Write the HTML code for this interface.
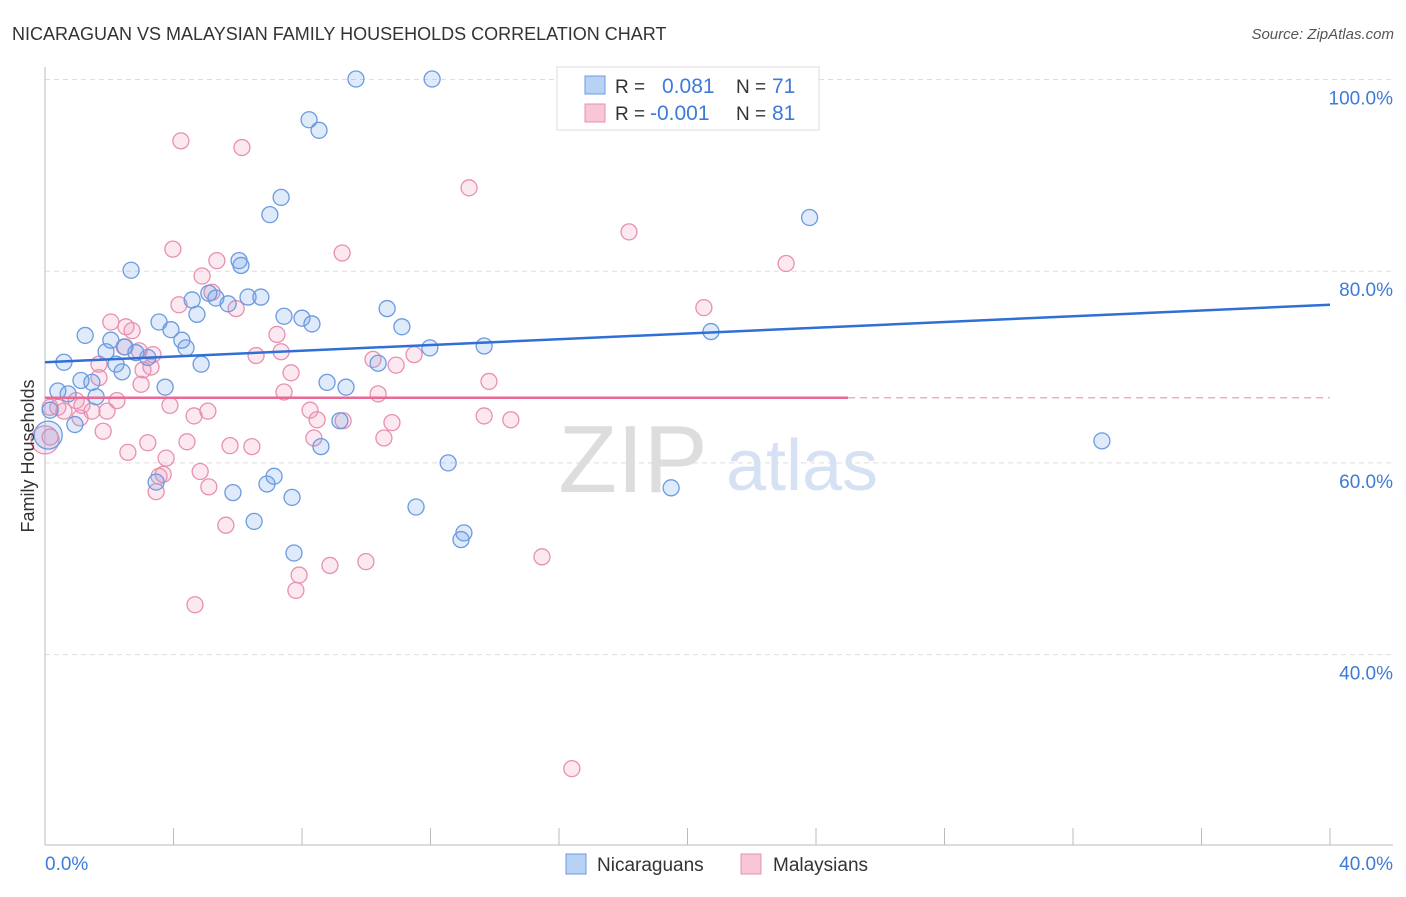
<!DOCTYPE html>
<html><head><meta charset="utf-8"><style>
body{margin:0;background:#fff;font-family:"Liberation Sans",sans-serif;}
svg text{font-family:"Liberation Sans",sans-serif;}
</style></head><body>
<svg id="chart" width="1406" height="892" viewBox="0 0 1406 892">
<text x="12" y="40" font-size="18" fill="#333">NICARAGUAN VS MALAYSIAN FAMILY HOUSEHOLDS CORRELATION CHART</text>
<text x="1394" y="39" font-size="15" fill="#555" font-style="italic" text-anchor="end">Source: ZipAtlas.com</text>
<g id="grid"></g>
<g>
<text x="633" y="492" font-size="96" fill="#ddd" text-anchor="middle" font-family="Liberation Serif">ZIP</text>
<text x="802" y="490" font-size="72" fill="#d6e2f3" text-anchor="middle">atlas</text>
</g>
<g id="pts"></g>
<g id="trends"></g>
<text transform="translate(34,456) rotate(-90)" font-size="18" fill="#333" text-anchor="middle">Family Households</text>
<g>
<rect x="557" y="67" width="262" height="63" fill="#fff" stroke="#ddd"/>
<rect x="585" y="76" width="20" height="18" fill="#b8d2f5" stroke="#6b9be0"/>
<rect x="585" y="104" width="20" height="18" fill="#f9c6d7" stroke="#e890b0"/>
<text x="615" y="93" font-size="19" fill="#333">R = </text><text x="662" y="93" font-size="21" fill="#3d7bd9">0.081</text>
<text x="736" y="93" font-size="19" fill="#333">N = </text><text x="772" y="93" font-size="21" fill="#3d7bd9">71</text>
<text x="615" y="120" font-size="19" fill="#333">R = </text><text x="650" y="120" font-size="21" fill="#3d7bd9">-0.001</text>
<text x="736" y="120" font-size="19" fill="#333">N = </text><text x="772" y="120" font-size="21" fill="#3d7bd9">81</text>
</g>
<g>
<rect x="566" y="854" width="20" height="20" fill="#b8d2f5" stroke="#6b9be0"/>
<text x="597" y="871" font-size="19" fill="#333">Nicaraguans</text>
<rect x="741" y="854" width="20" height="20" fill="#f9c6d7" stroke="#e890b0"/>
<text x="773" y="871" font-size="19" fill="#333">Malaysians</text>
</g>
</svg>
<script>
const yTicks=[100,80,60,40];
const xTickLabels=["0.0%","40.0%"];
const blueX=[9.68,12.05,8.22,8.53,7.35,7.0,23.8,2.68,6.04,6.1,4.58,5.1,5.32,5.7,6.32,6.72,4.73,3.55,3.92,7.44,8.0,8.31,10.65,11.11,1.25,2.05,2.49,1.9,2.83,3.2,4.26,4.39,0.59,2.21,2.4,4.86,11.98,13.67,10.37,20.73,1.12,1.46,3.74,8.78,9.37,0.4,0.72,1.59,0.16,0.93,9.18,8.59,12.55,32.9,0.1,7.13,6.91,3.46,5.85,7.69,19.49,11.55,6.51,13.04,12.95,7.75,21.8];
const blueY=[100.05,100.05,95.8,94.7,87.7,85.9,85.6,80.1,81.1,80.6,77.0,77.7,77.2,76.6,77.3,77.3,75.5,74.7,73.9,75.3,75.1,74.5,76.1,74.2,73.3,72.8,72.1,71.6,71.5,71.0,72.8,72.0,70.5,70.3,69.5,70.3,72.0,72.2,70.4,73.7,68.6,68.4,67.9,68.4,67.9,67.5,67.2,66.9,65.5,64.0,64.4,61.7,60.0,62.3,62.9,58.6,57.8,58.0,56.9,56.4,57.4,55.4,53.9,52.7,52.0,50.6,100.0];
const pinkX=[4.23,6.13,13.2,18.18,3.98,9.25,23.07,5.35,4.89,5.2,4.17,5.95,20.51,2.05,2.52,2.71,7.22,6.57,7.35,2.93,3.36,2.46,10.21,10.93,11.49,3.3,3.05,1.68,7.66,13.82,2.99,1.68,7.44,10.37,2.24,0.97,1.15,0.4,0.59,1.46,1.93,3.89,5.07,8.25,4.64,1.09,8.47,10.8,13.67,14.5,9.28,1.81,8.37,10.55,4.42,3.2,5.76,6.44,0.0,2.58,3.77,4.83,3.55,3.68,5.1,3.46,5.63,15.47,9.99,8.87,7.91,7.81,4.67,16.4,0.16,0.16];
const pinkY=[93.6,92.9,88.7,84.1,82.3,81.9,80.8,81.1,79.5,77.8,76.5,76.1,76.2,74.7,74.2,73.8,73.4,71.2,71.6,71.7,71.3,72.1,70.8,70.2,71.3,70.0,69.7,70.3,69.4,68.5,68.2,68.9,67.4,67.2,66.5,66.5,66.0,65.8,65.4,65.4,65.4,66.0,65.4,65.5,64.9,64.7,64.5,64.2,64.9,64.5,64.4,63.3,62.6,62.6,62.2,62.1,61.8,61.7,62.4,61.1,60.5,59.1,58.6,58.8,57.5,57.0,53.5,50.2,49.7,49.3,48.3,46.7,45.2,28.1,62.7,65.8];
const blueTrend=[70.5,76.5];
const pinkTrend=[66.8,66.8];
const NS="http://www.w3.org/2000/svg";
const X=v=>45+v/40*1285;
const Y=v=>1038-v*9.585;
function mk(tag,attrs,parent){const e=document.createElementNS(NS,tag);for(const k in attrs)e.setAttribute(k,attrs[k]);parent.appendChild(e);return e;}
const grid=document.getElementById('grid');
yTicks.forEach(t=>{
 const l=mk('line',{x1:45,x2:1393,y1:Y(t),y2:Y(t),stroke:'#ddd','stroke-dasharray':'5,4'},grid);
 
 
 const tx=mk('text',{x:1393,y:Y(t)+25,'font-size':19,fill:'#3d7bd9','text-anchor':'end'},grid);
 tx.textContent=t.toFixed(1)+'%';
 
 
});
const ax=mk('line',{x1:45,x2:45,y1:67,y2:845,stroke:'#bbb'},grid);


const bx=mk('line',{x1:45,x2:1393,y1:845,y2:845,stroke:'#bbb'},grid);


for(let i=0;i<=10;i++){
 const t=mk('line',{x1:X(i*4),x2:X(i*4),y1:828,y2:845,stroke:'#bbb'},grid);
 
 
}
[[0,45,'start'],[40,1393,'end']].forEach((d,i)=>{
 const t=mk('text',{x:d[1],y:870,'font-size':19,fill:'#3d7bd9','text-anchor':d[2]},grid);
 t.textContent=xTickLabels[i];
 
 
});
const pts=document.getElementById('pts');
function series(xs,ys,fill,stroke,name){
 xs.forEach((v,i)=>{
  const r=(v<0.12)?14:8;
  const c=mk('circle',{cx:X(v),cy:Y(ys[i]),r:r,fill:fill,stroke:stroke,'stroke-width':1.3},pts);
  
  
 });
}
series(pinkX,pinkY,'rgba(240,150,185,0.22)','#e890b0','point-malaysian');
series(blueX,blueY,'rgba(110,160,230,0.22)','#6b9be0','point-nicaraguan');
const tr=document.getElementById('trends');
const b=mk('line',{x1:X(0),y1:Y(blueTrend[0]),x2:X(40),y2:Y(blueTrend[1]),stroke:'#2f6fd6','stroke-width':2.5},tr);


const p=mk('line',{x1:X(0),y1:Y(pinkTrend[0]),x2:X(25),y2:Y(pinkTrend[0]+(pinkTrend[1]-pinkTrend[0])*25/40),stroke:'#ea6a95','stroke-width':2.5},tr);


const pd=mk('line',{x1:X(25),y1:Y(pinkTrend[0]),x2:X(40),y2:Y(pinkTrend[1]),stroke:'#eaa0b8','stroke-width':1.3,'stroke-dasharray':'7,5'},tr);


</script>
</body></html>
